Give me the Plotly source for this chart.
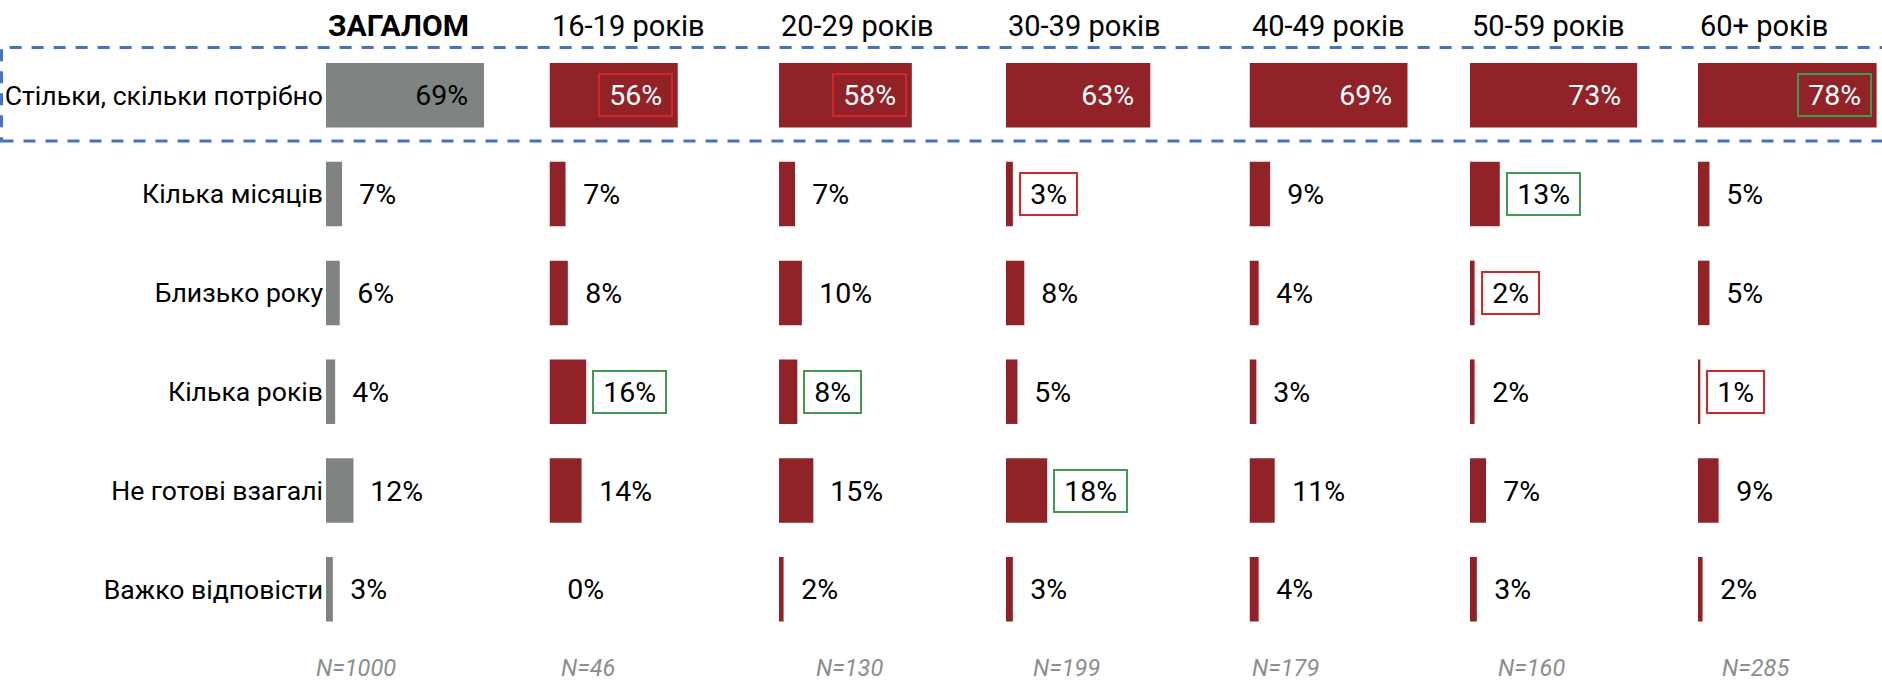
import plotly.graph_objects as go

# ---------------- data ----------------
categories = [
    "Стільки, скільки потрібно",
    "Кілька місяців",
    "Близько року",
    "Кілька років",
    "Не готові взагалі",
    "Важко відповісти",
]
groups = ["ЗАГАЛОМ", "16-19 років", "20-29 років", "30-39 років",
          "40-49 років", "50-59 років", "60+ років"]
sample_sizes = ["N=1000", "N=46", "N=130", "N=199", "N=179", "N=160", "N=285"]

total = [69, 7, 6, 4, 12, 3]
age_16_19 = [56, 7, 8, 16, 14, 0]
age_20_29 = [58, 7, 10, 8, 15, 2]
age_30_39 = [63, 3, 8, 5, 18, 3]
age_40_49 = [69, 9, 4, 3, 11, 4]
age_50_59 = [73, 13, 2, 2, 7, 3]
age_60_plus = [78, 5, 5, 1, 9, 2]
series = [total, age_16_19, age_20_29, age_30_39, age_40_49, age_50_59, age_60_plus]

# highlighted labels: (group index, category index)
lowest_marks = [(1, 0), (2, 0), (3, 1), (5, 2), (6, 3)]
highest_marks = [(6, 0), (5, 1), (1, 3), (2, 3), (3, 4)]

# ---------------- style / layout ----------------
W, H = 1882, 685
FONT = "Roboto"
GREY = "#7f8482"
RED = "#912328"
BOX_RED = "#d3272e"
BOX_GREEN = "#3d9a4e"
DASH_BLUE = "#4472c4"

panel_left_px = [326, 549.5, 779, 1006, 1249.5, 1470, 1698]
panel_width_px = [200, 200, 200, 200, 200, 200, 184]
px_per_pct = 2.29
n_label_shift = [-12, 9, 35, 25, 0, 26, 22]

row_top_px = 45.9
row_bottom_px = 638.7
y_domain = [1 - row_bottom_px / H, 1 - row_top_px / H]

LABEL_FS = 28.5


def text_width(s, fs):
    return sum(0.562 if c.isdigit() else 0.75 for c in s) * fs


fig = go.Figure()
layout_axes = {}
annotations = []

for i, (grp, vals) in enumerate(zip(groups, series)):
    n = i + 1
    xname = "x" if n == 1 else f"x{n}"
    yname = "y" if n == 1 else f"y{n}"
    xkey = "xaxis" if n == 1 else f"xaxis{n}"
    ykey = "yaxis" if n == 1 else f"yaxis{n}"
    color = GREY if i == 0 else RED

    fig.add_trace(go.Bar(
        x=vals, y=categories, orientation="h",
        xaxis=xname, yaxis=yname,
        marker=dict(color=color, line=dict(width=0)),
        showlegend=False, hoverinfo="skip",
    ))

    x0 = panel_left_px[i] / W
    x1 = (panel_left_px[i] + panel_width_px[i]) / W
    layout_axes[xkey] = dict(
        domain=[x0, x1], range=[0, panel_width_px[i] / px_per_pct],
        anchor=yname, visible=False, fixedrange=True,
    )
    layout_axes[ykey] = dict(
        domain=y_domain, type="category", categoryorder="array",
        categoryarray=categories, range=[5.5, -0.5], anchor=xname,
        showgrid=False, zeroline=False, showline=False, ticks="",
        showticklabels=(i == 0), ticklabelstandoff=2,
        tickfont=dict(family=FONT, size=26.6, color="#000000"),
        visible=(i == 0), fixedrange=True,
    )

    # value labels
    for j, (cat, v) in enumerate(zip(categories, vals)):
        txt = f"{v}%"
        border = "rgba(0,0,0,0)"
        if (i, j) in lowest_marks:
            border = BOX_RED
        if (i, j) in highest_marks:
            border = BOX_GREEN
        inside = (j == 0)
        font_color = "#000000" if (not inside or i == 0) else "#ffffff"
        annotations.append(dict(
            x=v, y=cat, xref=xname, yref=yname, text=txt, showarrow=False,
            xanchor="right" if inside else "left",
            xshift=-5 if inside else 6,
            width=text_width(txt, LABEL_FS) + 14, height=36,
            align="center", valign="middle",
            borderpad=2, borderwidth=2, bordercolor=border,
            font=dict(family=FONT, size=LABEL_FS, color=font_color),
        ))

    # group title
    annotations.append(dict(
        x=0, y=1 - 25.5 / H, xref=f"{xname} domain", yref="paper",
        text=grp, showarrow=False, xanchor="left", yanchor="middle",
        font=dict(family=FONT, size=30 if i == 0 else 29, color="#000000",
                  weight=700 if i == 0 else 400),
    ))
    # sample size
    annotations.append(dict(
        x=0, y=1 - 668 / H, xref=f"{xname} domain", yref="paper",
        text=sample_sizes[i], showarrow=False, xanchor="left", yanchor="middle",
        xshift=n_label_shift[i],
        font=dict(family=FONT, size=23.5, color="#8a8f8e", style="italic"),
    ))

fig.update_layout(
    width=W, height=H,
    margin=dict(l=0, r=0, t=0, b=0),
    paper_bgcolor="#ffffff", plot_bgcolor="rgba(0,0,0,0)",
    bargap=0.347,
    font=dict(family=FONT, size=26, color="#000000"),
    annotations=annotations,
    shapes=[dict(
        type="rect", xref="paper", yref="paper",
        x0=1.5 / W, x1=1.01, y0=1 - 141 / H, y1=1 - 47.5 / H,
        line=dict(color=DASH_BLUE, width=3, dash="12px,10px"),
        fillcolor="rgba(0,0,0,0)", layer="above",
    )],
    **layout_axes,
)

fig.write_html(
    "out.html",
    config={"displayModeBar": False, "staticPlot": True},
    post_script="document.body.style.margin='0';document.body.style.overflow='hidden';",
)
